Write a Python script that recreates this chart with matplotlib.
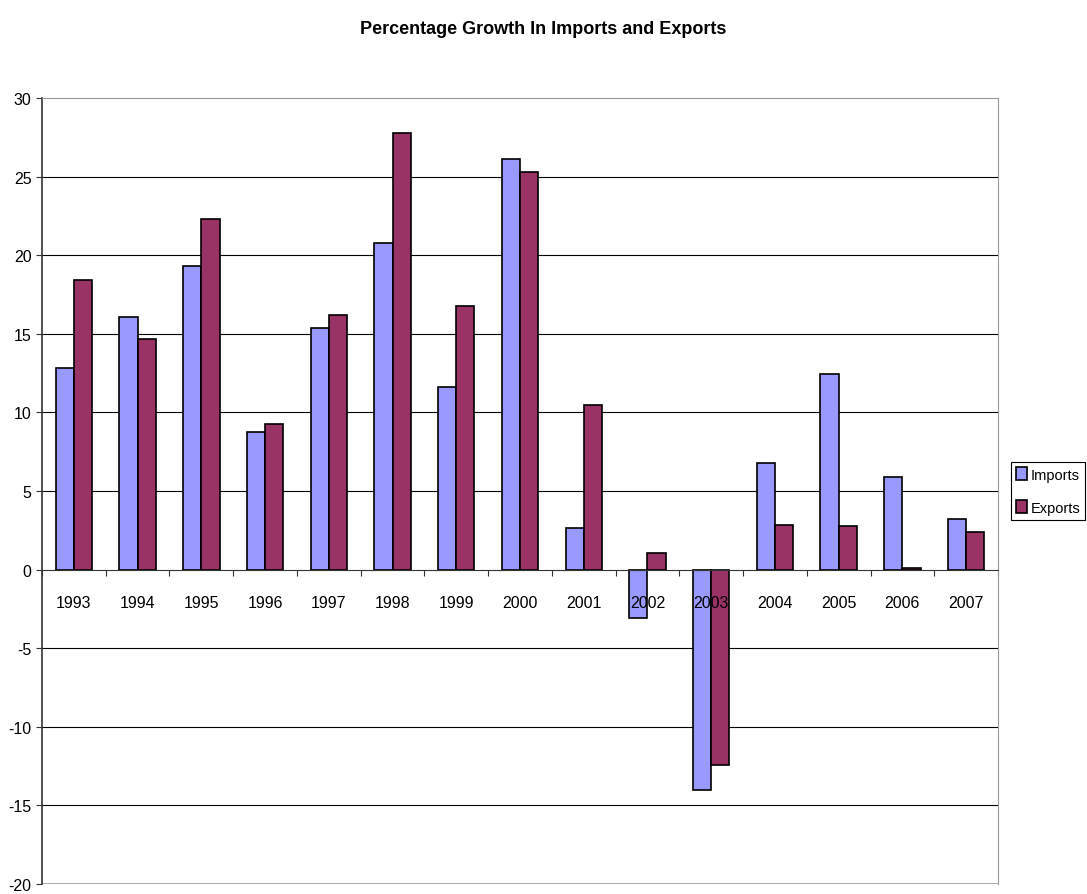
import matplotlib
matplotlib.use("Agg")
import matplotlib.pyplot as plt
import numpy as np

plt.rcParams['font.family'] = ['Liberation Sans', 'DejaVu Sans']
plt.rcParams['axes.unicode_minus'] = False

years = ['1993', '1994', '1995', '1996', '1997', '1998', '1999', '2000',
         '2001', '2002', '2003', '2004', '2005', '2006', '2007']
imports = [12.8, 16.1, 19.3, 8.75, 15.4, 20.8, 11.6, 26.1,
           2.65, -3.1, -14.0, 6.8, 12.45, 5.9, 3.2]
exports = [18.4, 14.7, 22.3, 9.25, 16.2, 27.8, 16.8, 25.3,
           10.5, 1.05, -12.4, 2.85, 2.75, 0.1, 2.4]

fig = plt.figure(figsize=(10.87, 8.95), dpi=100)
ax = fig.add_axes([42 / 1087, 10 / 895, 956 / 1087, 786 / 895])

x = np.arange(len(years))
w = 1 / 3.5
ax.bar(x - w / 2, imports, w, color='#9999FF', edgecolor='black', linewidth=1.2,
       label='Imports', zorder=3)
ax.bar(x + w / 2, exports, w, color='#993366', edgecolor='black', linewidth=1.2,
       label='Exports', zorder=3)

ax.set_xlim(-0.5, len(years) - 0.5)
ax.set_ylim(-20, 30)
ax.set_yticks(range(-20, 31, 5))
for v in range(-15, 30, 5):
    if v != 0:
        ax.axhline(v, color='black', linewidth=0.8, zorder=1)

# category axis sits on zero
ax.spines['bottom'].set_position(('data', 0))
ax.spines['bottom'].set_color('#333333')
ax.spines['bottom'].set_zorder(4)
ax.axhline(-20, color='#999999', linewidth=1.2, zorder=1)
ax.spines['top'].set_color('#999999')
ax.spines['right'].set_color('#999999')
ax.spines['left'].set_color('#333333')
ax.spines['left'].set_linewidth(1.2)

# year labels drawn on top of the bars, like the original
ax.set_xticks(np.arange(-0.5, len(years)))
ax.set_xticklabels([])
ax.tick_params(axis='x', length=4, direction='out', color='#333333')
for xi, yr in zip(x, years):
    ax.text(xi, -2.1, yr, ha='center', va='center', fontsize=11.5, zorder=6)
ax.tick_params(axis='y', length=4, direction='out', labelsize=11.5, color='#333333')

fig.suptitle('Percentage Growth In Imports and Exports', fontsize=13,
             fontweight='bold', y=0.977)

leg = ax.legend(loc='center left', bbox_to_anchor=(1.014, 0.5), fancybox=False,
                framealpha=1, edgecolor='black', fontsize=10.5, handlelength=0.75,
                handleheight=0.9, handletextpad=0.2, borderpad=0.35,
                labelspacing=1.3, borderaxespad=0)
leg.get_frame().set_linewidth(0.8)

fig.savefig('out.png', dpi=100)
